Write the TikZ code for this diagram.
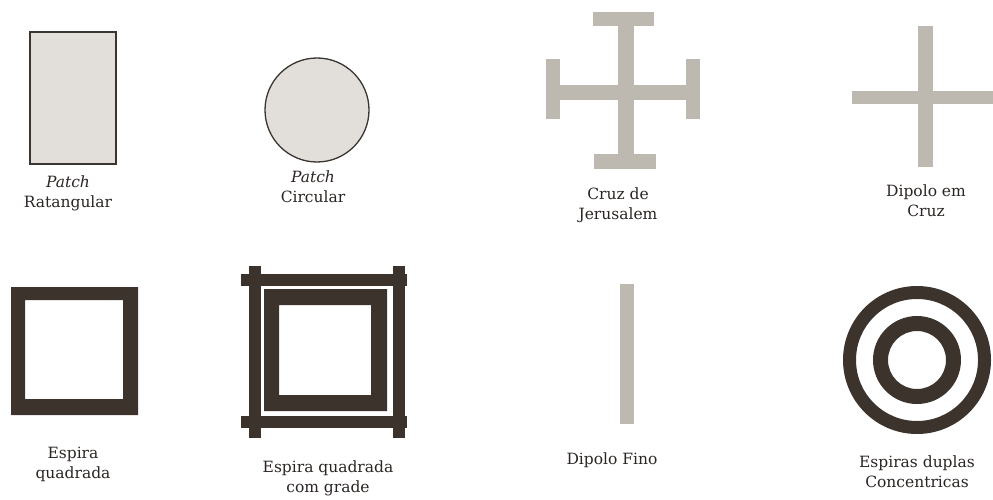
\documentclass[tikz,border=0pt]{standalone}
\usepackage{fontspec}
\setmainfont{DejaVu Serif}
\definecolor{lgray}{HTML}{BDB8B0}
\definecolor{dbrown}{HTML}{3D332D}
\definecolor{patchfill}{HTML}{E2DFDB}
\definecolor{patchline}{HTML}{3A3530}
\definecolor{txt}{HTML}{2A2522}
\tikzset{
  lbl/.style={align=center, font=\fontsize{15.5}{20}\selectfont, text=txt, inner sep=0pt},
  gbar/.style={fill=lgray, draw=none},
  dbar/.style={fill=dbrown, draw=none},
}
\begin{document}
\begin{tikzpicture}[x=1pt,y=-1pt]
\useasboundingbox (0,0) rectangle (993,500);
% Patch rectangular
\draw[fill=patchfill, draw=patchline, line width=1.8pt] (30,32) rectangle (116,164);
\node[lbl] (prect) at (68,193) {\textit{Patch}\\Ratangular};
% Patch circular
\draw[fill=patchfill, draw=patchline, line width=1.3pt] (317,110) circle (52);
\node[lbl] (pcirc) at (313,187) {\textit{Patch}\\Circular};
% Jerusalem cross
\fill[gbar] (593,12) rectangle (654,26);
\fill[gbar] (618,25) rectangle (634,155);
\fill[gbar] (594,154) rectangle (656,169);
\fill[gbar] (559,85) rectangle (687,100);
\fill[gbar] (546,59) rectangle (560,119);
\fill[gbar] (686,59) rectangle (700,119);
\node[lbl] (jer) at (618,205) {Cruz de\\Jerusalem};
% Dipole cross
\fill[gbar] (918,26) rectangle (933,167);
\fill[gbar] (852,91) rectangle (993,104);
\node[lbl] (dcruz) at (926,201) {Dipolo em\\Cruz};
% Square loop
\fill[dbar, even odd rule] (11,287) rectangle (138,415) (25,300) rectangle (123,399);
\node[lbl] (esq) at (73,464) {Espira\\quadrada};
% Square loop with grid
\fill[dbar] (249,266) rectangle (261,438);
\fill[dbar] (393,266) rectangle (405,438);
\fill[dbar] (241,274) rectangle (407,286);
\fill[dbar] (241,416) rectangle (407,428);
\fill[dbar, even odd rule] (264,289) rectangle (387,411) (279,305) rectangle (371,395);
\node[lbl] (egr) at (328,478) {Espira quadrada\\com grade};
% Thin dipole
\fill[gbar] (620,284) rectangle (634,424);
\node[lbl] (dfino) at (612,460) {Dipolo Fino};
% Concentric loops
\fill[dbar, even odd rule] (917,360) circle (74) (917,360) circle (61);
\fill[dbar, even odd rule] (917,360) circle (44) (917,360) circle (29);
\node[lbl] (econ) at (917,472) {Espiras duplas\\Concentricas};
\end{tikzpicture}
\end{document}
